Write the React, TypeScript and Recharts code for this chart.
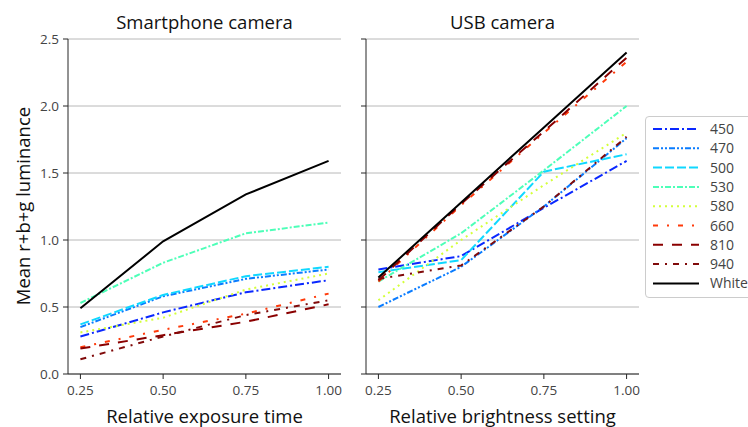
import { LineChart, Line, XAxis, YAxis, CartesianGrid } from "recharts";

// relative exposure / brightness steps
const levels = [0.25, 0.5, 0.75, 1.0];
const xTicks = [0.25, 0.5, 0.75, 1.0];
const yTicks = [0, 0.5, 1.0, 1.5, 2.0, 2.5];

const seriesNames = ["450", "470", "500", "530", "580", "660", "810", "940", "White"];

// Smartphone camera
const phone450 = [0.28, 0.46, 0.61, 0.7];
const phone470 = [0.35, 0.58, 0.71, 0.78];
const phone500 = [0.37, 0.59, 0.73, 0.8];
const phone530 = [0.53, 0.83, 1.05, 1.13];
const phone580 = [0.31, 0.42, 0.63, 0.75];
const phone660 = [0.2, 0.33, 0.45, 0.6];
const phone810 = [0.19, 0.29, 0.39, 0.52];
const phone940 = [0.11, 0.28, 0.44, 0.55];
const phoneWhite = [0.49, 0.99, 1.34, 1.59];

// USB camera
const usb450 = [0.78, 0.88, 1.24, 1.59];
const usb470 = [0.5, 0.8, 1.25, 1.76];
const usb500 = [0.76, 0.85, 1.51, 1.64];
const usb530 = [0.69, 1.05, 1.52, 2.0];
const usb580 = [0.55, 1.0, 1.41, 1.8];
const usb660 = [0.69, 1.26, 1.8, 2.33];
const usb810 = [0.7, 1.27, 1.81, 2.36];
const usb940 = [0.71, 0.81, 1.25, 1.77];
const usbWhite = [0.72, 1.28, 1.84, 2.4];

const colors = ["#0a28ff", "#0a7cff", "#10d8ff", "#4dffb8", "#d4ff3a", "#ff3a0a", "#8a0000", "#800a0a", "#000000"];
const dashes = ["9 3 2 3", "6 2 2 2 2 2", "9 3", "6 2 2 2", "2 4", "5 9 2 9", "10 9", "6 6 2 6", ""];

const toRows = (cols: number[][]) =>
  levels.map((x, i) => {
    const row: Record<string, number> = { x };
    seriesNames.forEach((name, k) => (row[name] = cols[k][i]));
    return row;
  });

const phoneData = toRows([phone450, phone470, phone500, phone530, phone580, phone660, phone810, phone940, phoneWhite]);
const usbData = toRows([usb450, usb470, usb500, usb530, usb580, usb660, usb810, usb940, usbWhite]);

const font = "'Open Sans', sans-serif";
const ink = "#262626";
const tickInk = "#444444";

const Panel = ({ data, left, width, yAxisWidth, right, showY }: {
  data: Record<string, number>[];
  left: number;
  width: number;
  yAxisWidth: number;
  right: number;
  showY: boolean;
}) => (
  <div style={{ position: "absolute", left, top: 0 }}>
    <LineChart width={width} height={427} data={data} margin={{ top: 39, right, bottom: 23, left: 0 }}>
      <CartesianGrid vertical={false} stroke="#b8b8b8" strokeWidth={1} />
      <XAxis
        dataKey="x"
        type="number"
        domain={[0.2125, 1.0375]}
        ticks={xTicks}
        allowDataOverflow
        height={30}
        tickSize={5}
        tickMargin={6}
        stroke={ink}
        tick={{ fill: tickInk, fontSize: 13.5, fontFamily: font }}
        tickFormatter={(v: number) => v.toFixed(2)}
      />
      <YAxis
        type="number"
        domain={[0, 2.5]}
        ticks={yTicks}
        width={yAxisWidth}
        tickSize={5}
        tickMargin={4}
        stroke={ink}
        tick={{ fill: tickInk, fontSize: 13.5, fontFamily: font }}
        tickFormatter={(v: number) => (showY ? v.toFixed(1) : "")}
      />
      {seriesNames.map((name, k) => (
        <Line
          key={name}
          dataKey={name}
          type="linear"
          stroke={colors[k]}
          strokeWidth={2}
          strokeDasharray={dashes[k] || undefined}
          dot={false}
          isAnimationActive={false}
        />
      ))}
    </LineChart>
  </div>
);

const Legend = () => (
  <div
    style={{
      position: "absolute",
      left: 645,
      top: 116,
      width: 120,
      height: 180,
      border: "1px solid #cccccc",
      borderRadius: 4,
      background: "#fff",
    }}
  >
    <svg width={120} height={180}>
      {seriesNames.map((name, k) => {
        const y = 12 + k * 19.3;
        return (
          <g key={name}>
            <line
              x1={7}
              x2={53}
              y1={y}
              y2={y}
              stroke={colors[k]}
              strokeWidth={2}
              strokeDasharray={dashes[k] || undefined}
            />
            <text x={64} y={y + 5} fontSize={14} fontFamily={font} fill={tickInk}>
              {name}
            </text>
          </g>
        );
      })}
    </svg>
  </div>
);

const textStyle = {
  position: "absolute" as const,
  fontFamily: font,
  color: "#111",
  whiteSpace: "nowrap" as const,
  lineHeight: "24px",
};

export default function App() {
  return (
    <div style={{ position: "absolute", left: 0, top: 0, width: 748, height: 427, overflow: "hidden", background: "#fff" }}>
      <Panel data={phoneData} left={0} width={350} yAxisWidth={68} right={9} showY />
      <Panel data={usbData} left={340} width={310} yAxisWidth={26} right={11} showY={false} />
      <div style={{ ...textStyle, left: 68, width: 273, top: 10, textAlign: "center", fontSize: 18.5 }}>Smartphone camera</div>
      <div style={{ ...textStyle, left: 366, width: 273, top: 10, textAlign: "center", fontSize: 18.5 }}>USB camera</div>
      <div style={{ ...textStyle, left: 68, width: 273, top: 404, textAlign: "center", fontSize: 18.5 }}>Relative exposure time</div>
      <div style={{ ...textStyle, left: 366, width: 273, top: 404, textAlign: "center", fontSize: 18.5 }}>Relative brightness setting</div>
      <div
        style={{
          ...textStyle,
          left: 23,
          top: 206,
          fontSize: 18.5,
          transform: "translate(-50%, -50%) rotate(-90deg)",
        }}
      >
        Mean r+b+g luminance
      </div>
      <Legend />
    </div>
  );
}
